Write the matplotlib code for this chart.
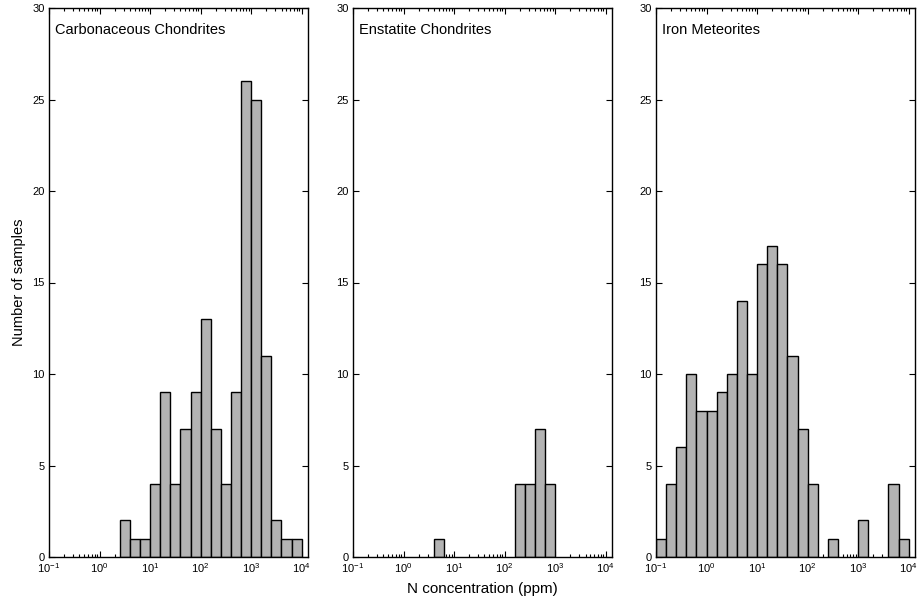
import numpy as np
import matplotlib
matplotlib.use("Agg")
import matplotlib.pyplot as plt
from matplotlib.ticker import LogLocator, FixedLocator

plt.rcParams['font.family'] = ['Liberation Sans', 'DejaVu Sans']
plt.rcParams['mathtext.fontset'] = 'custom'
plt.rcParams['mathtext.rm'] = 'Liberation Sans'
plt.rcParams['mathtext.it'] = 'Liberation Sans:italic'

# log10 of bin edges (0.2-decade bins from 10^-1 to 10^4)
bin_edges_log = [-1.0, -0.8, -0.6, -0.4, -0.2, 0.0, 0.2, 0.4, 0.6, 0.8,
                 1.0, 1.2, 1.4, 1.6, 1.8, 2.0, 2.2, 2.4, 2.6, 2.8,
                 3.0, 3.2, 3.4, 3.6, 3.8, 4.0]

carbonaceous = [0, 0, 0, 0, 0, 0, 0, 2, 1, 1,
                4, 9, 4, 7, 9, 13, 7, 4, 9, 26,
                25, 11, 2, 1, 1]
enstatite = [0, 0, 0, 0, 0, 0, 0, 0, 1, 0,
             0, 0, 0, 0, 0, 0, 4, 4, 7, 4,
             0, 0, 0, 0, 0]
iron = [1, 4, 6, 10, 8, 8, 9, 10, 14, 10,
        16, 17, 16, 11, 7, 4, 0, 1, 0, 0,
        2, 0, 0, 4, 1]

titles = ["Carbonaceous Chondrites", "Enstatite Chondrites", "Iron Meteorites"]
series = [carbonaceous, enstatite, iron]
xticks = [0.1, 1, 10, 100, 1000, 10000]
yticks = [0, 5, 10, 15, 20, 25, 30]

W, H = 917, 601
fig = plt.figure(figsize=(W / 100, H / 100), dpi=100)
lefts = [49, 353, 656]
ax_w = 259
bottom_px, top_px = 557, 8

edges = 10 ** np.array(bin_edges_log)
for i, (title, counts) in enumerate(zip(titles, series)):
    ax = fig.add_axes([lefts[i] / W, (H - bottom_px) / H, ax_w / W, (bottom_px - top_px) / H])
    ax.set_axisbelow(True)
    counts = np.array(counts)
    lo = edges[:-1]
    wd = edges[1:] - edges[:-1]
    m = counts > 0
    ax.bar(lo[m], counts[m], width=wd[m], align='edge', color='#b3b3b3',
           edgecolor='black', linewidth=1.0, zorder=3)
    ax.set_xscale('log')
    ax.set_xlim(0.1, 10 ** 4.125)
    ax.set_ylim(0, 30)
    ax.xaxis.set_major_locator(FixedLocator(xticks))
    ax.xaxis.set_minor_locator(LogLocator(base=10, subs=np.arange(2, 10), numticks=20))
    ax.set_yticks(yticks)
    ax.tick_params(which='both', direction='in', top=True, right=True, labelsize=8)
    ax.tick_params(which='major', length=4, width=0.8, pad=3)
    ax.tick_params(which='minor', length=2.5, width=0.8)
    for sp in ax.spines.values():
        sp.set_linewidth(1.0)
        sp.set_zorder(4)
    ax.text(0.025, 0.972, title, transform=ax.transAxes, ha='left', va='top', fontsize=10.5)
    if i == 0:
        ax.set_ylabel("Number of samples", fontsize=10.5, labelpad=5)
    if i == 1:
        ax.set_xlabel("N concentration (ppm)", fontsize=11, labelpad=5)

fig.savefig("out.png", dpi=100)
